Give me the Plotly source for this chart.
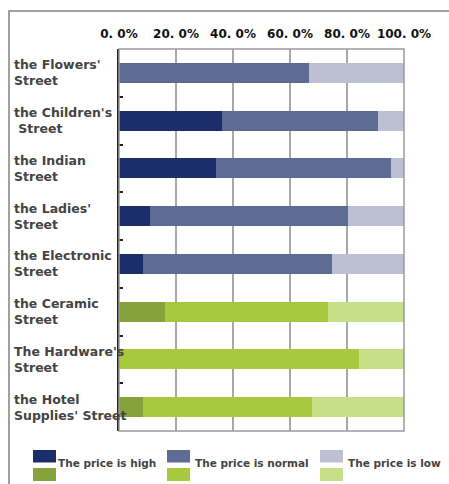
import plotly.graph_objects as go

# ---- data ----
categories = [
    "the Flowers'<br>Street",
    "the Children's<br> Street",
    "the Indian<br>Street",
    "the Ladies'<br>Street",
    "the Electronic<br>Street",
    "the Ceramic<br>Street",
    "The Hardware's<br>Street",
    "the Hotel<br>Supplies' Street",
]
price_high = [0.0, 36.0, 34.0, 11.0, 8.3, 16.0, 0.0, 8.5]
price_normal = [66.7, 55.0, 61.5, 69.5, 66.3, 57.5, 84.2, 59.3]
price_low = [33.3, 9.0, 4.5, 19.5, 25.4, 26.5, 15.8, 32.2]
series_names = ["The price is high", "The price is normal", "The price is low"]
category_group = ["blue", "blue", "blue", "blue", "blue", "green", "green", "green"]
tick_vals = [0, 20, 40, 60, 80, 100]
tick_labels = ["0. 0%", "20. 0%", "40. 0%", "60. 0%", "80. 0%", "100. 0%"]

# ---- styles ----
palette = {
    "blue": ["#1c2d6b", "#5e6b95", "#bcc0d2"],
    "green": ["#86a23a", "#a7c93d", "#c6df88"],
}
W, H = 449, 484
L, R, T, B = 119, 404, 49, 431


def px_x(p):
    return (p - L) / (R - L)


def px_y(p):
    return (B - p) / (B - T)


fig = go.Figure()
for i, (name, vals) in enumerate(zip(series_names, [price_high, price_normal, price_low])):
    fig.add_trace(go.Bar(
        y=categories, x=vals, name=name, orientation="h",
        marker=dict(color=[palette[g][i] for g in category_group], line=dict(width=0)),
        showlegend=False,
    ))

shapes = []
# outer frame
shapes.append(dict(type="rect", xref="paper", yref="paper",
                   x0=px_x(9), x1=px_x(470), y0=px_y(11), y1=px_y(510),
                   line=dict(color="#a0a0a0", width=2), layer="below"))
# plot frame
shapes.append(dict(type="rect", xref="paper", yref="paper", x0=0, x1=1, y0=0, y1=1,
                   line=dict(color="#9a9a9a", width=1.5), layer="above"))

annotations = []
for c in categories:
    annotations.append(dict(x=px_x(12), xref="paper", y=c, yref="y", text=c,
                            showarrow=False, xanchor="left", yanchor="middle", align="left",
                            font=dict(family="DejaVu Sans", size=12.5, color="#444444", weight="bold")))

# custom legend
leg_x = [33, 167, 320]
leg_text_x = [56, 193, 346]
for i, name in enumerate(series_names):
    for j, (yt, yb) in enumerate([(450, 462.5), (468, 481)]):
        g = ["blue", "green"][j]
        shapes.append(dict(type="rect", xref="paper", yref="paper",
                           x0=px_x(leg_x[i]), x1=px_x(leg_x[i] + 23), y0=px_y(yb), y1=px_y(yt),
                           fillcolor=palette[g][i], line=dict(width=0)))
    annotations.append(dict(x=px_x(leg_text_x[i]), xref="paper", y=px_y(463), yref="paper",
                            text=name, showarrow=False, xanchor="left", yanchor="middle",
                            font=dict(family="DejaVu Sans", size=10.5, color="#444444", weight="bold")))

fig.update_layout(
    width=W, height=H, barmode="stack", bargap=0.58,
    margin=dict(l=L, r=W - R, t=T, b=H - B),
    paper_bgcolor="white", plot_bgcolor="white",
    xaxis=dict(side="top", range=[0, 100], tickvals=tick_vals, ticktext=tick_labels,
               showgrid=True, gridcolor="#a8a8a8", gridwidth=1.5, zeroline=False,
               ticks="", ticklabelstandoff=8,
               tickfont=dict(family="DejaVu Sans", size=12, color="#111111", weight="bold")),
    yaxis=dict(autorange="reversed", showticklabels=False, tickson="boundaries",
               ticks="inside", ticklen=4, tickcolor="#222222", tickwidth=1.5,
               showline=True, linecolor="#222222", linewidth=1.5, showgrid=False),
    shapes=shapes, annotations=annotations,
)

fig.write_html("out.html", config={"displayModeBar": False},
               post_script="document.body.style.margin='0';document.body.style.overflow='hidden';")
